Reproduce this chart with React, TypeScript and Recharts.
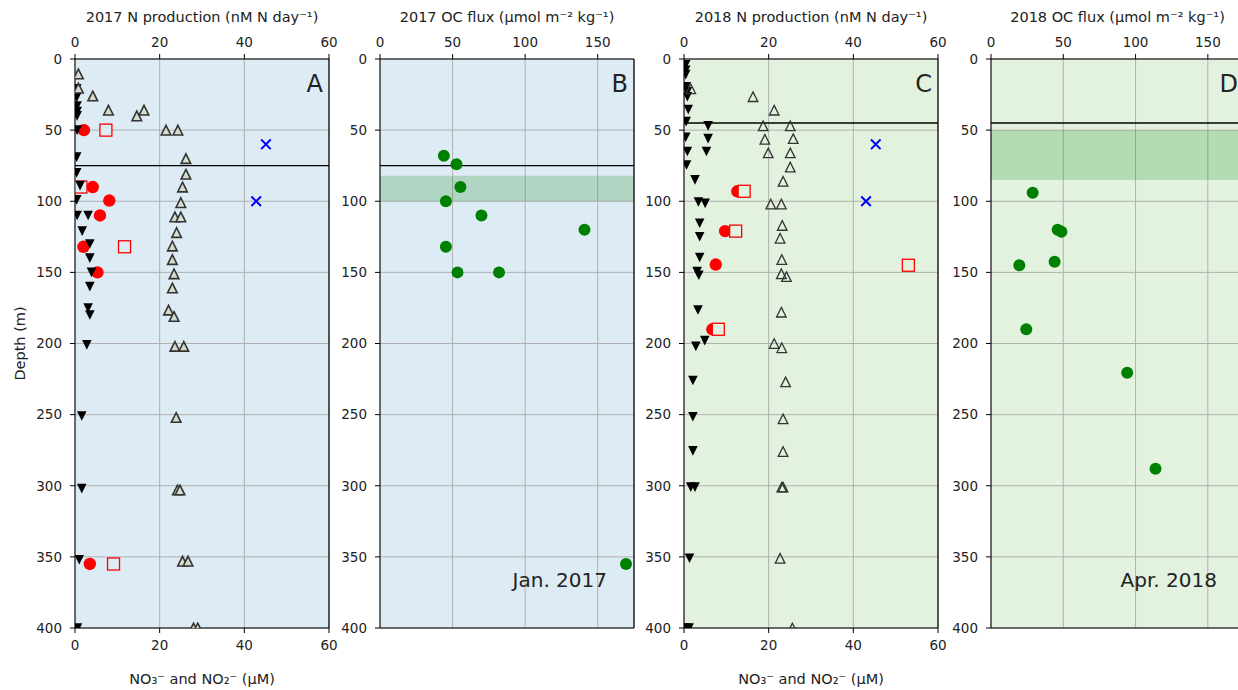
import React from 'react';
import {
  ScatterChart,
  Scatter,
  XAxis,
  YAxis,
  CartesianGrid,
  ReferenceLine,
  ReferenceArea,
} from 'recharts';

const FONT = '"DejaVu Sans", Verdana, sans-serif';
const INK = '#222';
const BLUE_BG = '#ddebf4';
const GREEN_BG = '#e3f2df';

const depthTicks = [0, 50, 100, 150, 200, 250, 300, 350, 400];
const nTicks = [0, 20, 40, 60];
const ocTicks = [0, 50, 100, 150];

// every row is [depth (m), value]
const no3_2017 = [
  [10.5, 0.8], [20.5, 0.8], [26, 4.2], [36, 7.9], [40, 14.6], [36, 16.3], [50, 21.5], [50, 24.3],
  [70, 26.2], [81, 26.2], [90, 25.4], [101, 25.0], [111, 23.6], [111, 25.0], [122, 24.0],
  [131.5, 23.0], [141, 23.0], [151, 23.4], [161, 23.0], [176.5, 22.1], [181, 23.4], [202, 23.6],
  [202, 25.7], [252, 23.9], [303, 24.2], [303, 24.8], [353, 25.4], [353, 26.7], [400, 28], [400, 29],
];
const no2_2017 = [
  [21, 0.4], [27, 0.4], [33, 0.5], [37, 0.5], [40, 0.5], [50, 0.5], [69, 0.4], [80, 0.4], [89, 1.2],
  [99, 0.4], [110, 0.5], [110, 3.1], [121, 1.7], [130, 3.5], [140, 3.5], [150, 3.9], [160, 3.5],
  [175, 3.1], [180, 3.5], [201, 2.8], [251, 1.6], [302, 1.6], [352, 1.0], [400, 0.6],
];
const prodA_2017 = [[50, 2.1], [90, 4.2], [99.5, 8.1], [110, 5.9], [132, 2.0], [150, 5.3], [355, 3.5]];
const prodB_2017 = [[50, 7.3], [90, 1.4], [132, 11.7], [355, 9.1]];
const prodC_2017 = [[60, 45.1], [100, 42.8]];
const flux_2017 = [
  [68, 44], [74, 52.7], [90, 55.4], [100, 45.4], [110, 69.9], [120, 140.9], [132, 45.4],
  [150, 53.4], [150, 82], [355, 169.5],
];

const no3_2018 = [
  [21, 1.6], [26.5, 16.3], [36, 21.3], [47, 18.7], [47, 25.1], [56.5, 19.1], [56, 25.8], [66, 19.9],
  [66, 25.1], [76, 25.1], [86, 23.4], [102, 20.5], [102, 23.0], [117, 23.2], [126, 22.7], [141, 23.1],
  [151, 23.0], [153, 24.2], [178, 23.0], [200, 21.3], [203, 23.1], [227, 24.0], [253, 23.4],
  [276, 23.4], [301, 23.1], [301, 23.4], [351, 22.7], [400, 25.6],
];
const no2_2018 = [
  [4, 0.4], [8, 0.4], [11, 0.4], [19.5, 0.5], [23, 0.8], [26.5, 0.8], [35.5, 1.0], [44, 0.5],
  [47, 5.7], [55, 0.4], [56, 5.7], [65, 0.8], [65, 5.3], [74.5, 0.6], [85, 2.6], [100.5, 3.4],
  [101.5, 5.0], [115.5, 3.7], [125, 3.7], [139.5, 3.7], [149.5, 3.1], [152, 3.5], [176.5, 3.3],
  [198, 4.9], [202, 2.8], [226, 2.1], [251.5, 2.1], [275.5, 2.1], [301, 1.6], [301, 2.6], [351, 1.3],
  [400, 0.5], [400, 1.2],
];
const prodA_2018 = [[93, 12.6], [121, 9.7], [144.5, 7.5], [190, 6.7]];
const prodB_2018 = [[93, 14.2], [121, 12.2], [145, 53.0], [190, 8.1]];
const prodC_2018 = [[60, 45.3], [100, 43]];
const flux_2018 = [
  [94, 28.8], [120, 46.1], [121.5, 48.7], [145, 19.6], [142.5, 44], [190, 24.4], [220.5, 94.2],
  [288, 113.8],
];

const pts = (rows: number[][]) => rows.map(([depth, value]) => ({ depth, value }));

const tickStyle = { fill: INK, fontSize: 13.5, fontFamily: FONT };
const labelStyle = { fill: INK, fontSize: 14.5, fontFamily: FONT };

// marker shapes (matplotlib look)
const downTri = (p: any) => (
  <path d={`M${p.cx - 4.8},${p.cy - 4.8}L${p.cx + 4.8},${p.cy - 4.8}L${p.cx},${p.cy + 4.8}Z`} fill="#000" />
);
const upTri = (fill: string, sw: number) => (p: any) => (
  <path
    d={`M${p.cx},${p.cy - 4.8}L${p.cx + 4.8},${p.cy + 4.8}L${p.cx - 4.8},${p.cy + 4.8}Z`}
    fill={fill}
    stroke="#333"
    strokeWidth={sw}
  />
);
const redDot = (p: any) => <circle cx={p.cx} cy={p.cy} r={6.2} fill="#ff0000" />;
const redSquare = (bg: string) => (p: any) => (
  <rect x={p.cx - 6} y={p.cy - 6} width={12} height={12} fill={bg} stroke="#ff0000" strokeWidth={1.3} />
);
const blueCross = (p: any) => (
  <path
    d={`M${p.cx - 4.8},${p.cy - 4.8}L${p.cx + 4.8},${p.cy + 4.8}M${p.cx - 4.8},${p.cy + 4.8}L${p.cx + 4.8},${p.cy - 4.8}`}
    stroke="#0000ff"
    strokeWidth={2}
  />
);
const greenDot = (p: any) => <circle cx={p.cx} cy={p.cy} r={6} fill="#008000" />;

const cornerText = (right: number, top: number, size: number, text: string) => (
  <div
    style={{
      position: 'absolute',
      left: right,
      top,
      transform: 'translateX(-100%)',
      fontFamily: FONT,
      fontSize: size,
      lineHeight: 1,
      color: INK,
      whiteSpace: 'nowrap',
    }}
  >
    {text}
  </div>
);

function NPanel(props: any) {
  const { left, width, yw, rm, bg, year, no3, no2, prodA, prodB, prodC, lineDepth, letter, no3Fill, depthLabel } = props;
  const plotRight = width - rm;
  return (
    <div style={{ position: 'absolute', left, top: 0, width, height: 690 }}>
      <ScatterChart width={width} height={690} margin={{ top: 0, right: rm, bottom: 0, left: 0 }}>
        <CartesianGrid xAxisId="bottom" stroke="#b0b0b0" fill={bg} fillOpacity={1} />
        <XAxis
          xAxisId="top"
          orientation="top"
          type="number"
          dataKey="value"
          domain={[0, 60]}
          ticks={nTicks}
          interval={0}
          allowDataOverflow
          height={59}
          tickSize={5}
          tickMargin={7}
          stroke="#000"
          tick={tickStyle}
          label={{ value: `${year} N production (nM N day⁻¹)`, position: 'insideTop', offset: 12, ...labelStyle }}
        />
        <XAxis
          xAxisId="bottom"
          orientation="bottom"
          type="number"
          dataKey="value"
          domain={[0, 60]}
          ticks={nTicks}
          interval={0}
          allowDataOverflow
          height={62}
          tickSize={5}
          tickMargin={7}
          stroke="#000"
          tick={tickStyle}
          label={{ value: 'NO₃⁻ and NO₂⁻ (μM)', position: 'insideBottom', offset: 6, ...labelStyle }}
        />
        <YAxis
          type="number"
          dataKey="depth"
          domain={[0, 400]}
          reversed
          ticks={depthTicks}
          interval={0}
          allowDataOverflow
          width={yw}
          tickSize={5}
          tickMargin={8}
          stroke="#000"
          tick={tickStyle}
          label={
            depthLabel
              ? { value: 'Depth (m)', angle: -90, position: 'insideLeft', offset: 20, style: { textAnchor: 'middle' }, ...labelStyle }
              : undefined
          }
        />
        <ReferenceLine xAxisId="bottom" x={60} stroke="#000" strokeWidth={1.2} />
        <ReferenceLine xAxisId="bottom" y={lineDepth} stroke="#000" strokeWidth={1.3} />
        <Scatter xAxisId="top" data={pts(prodA)} shape={redDot} isAnimationActive={false} />
        <Scatter xAxisId="top" data={pts(prodB)} shape={redSquare(bg)} isAnimationActive={false} />
        <Scatter xAxisId="bottom" data={pts(no2)} shape={downTri} isAnimationActive={false} />
        <Scatter xAxisId="bottom" data={pts(no3)} shape={upTri(no3Fill, no3Fill === 'none' ? 1.3 : 1.6)} isAnimationActive={false} />
        <Scatter xAxisId="top" data={pts(prodC)} shape={blueCross} isAnimationActive={false} />
      </ScatterChart>
      {cornerText(plotRight - 6, 72, 24, letter)}
    </div>
  );
}

function OcPanel(props: any) {
  const { left, width, yw, rm, bg, year, flux, lineDepth, band, letter, stamp } = props;
  const plotRight = width - rm;
  return (
    <div style={{ position: 'absolute', left, top: 0, width, height: 690 }}>
      <ScatterChart width={width} height={690} margin={{ top: 0, right: rm, bottom: 62, left: 0 }}>
        <CartesianGrid xAxisId="top" stroke="#b0b0b0" fill={bg} fillOpacity={1} />
        <XAxis
          xAxisId="top"
          orientation="top"
          type="number"
          dataKey="value"
          domain={[0, 175]}
          ticks={ocTicks}
          interval={0}
          allowDataOverflow
          height={59}
          tickSize={5}
          tickMargin={7}
          stroke="#000"
          tick={tickStyle}
          label={{ value: `${year} OC flux (μmol m⁻² kg⁻¹)`, position: 'insideTop', offset: 12, ...labelStyle }}
        />
        <YAxis
          type="number"
          dataKey="depth"
          domain={[0, 400]}
          reversed
          ticks={depthTicks}
          interval={0}
          allowDataOverflow
          width={yw}
          tickSize={5}
          tickMargin={8}
          stroke="#000"
          tick={tickStyle}
        />
        <ReferenceArea xAxisId="top" y1={band[0]} y2={band[1]} fill="#008000" fillOpacity={0.2} stroke="none" />
        <ReferenceLine xAxisId="top" x={175} stroke="#000" strokeWidth={1.2} />
        <ReferenceLine xAxisId="top" y={400} stroke="#000" strokeWidth={1.2} />
        <ReferenceLine xAxisId="top" y={lineDepth} stroke="#000" strokeWidth={1.3} />
        <Scatter xAxisId="top" data={pts(flux)} shape={greenDot} isAnimationActive={false} />
      </ScatterChart>
      {cornerText(plotRight - 6, 72, 24, letter)}
      {cornerText(plotRight - 27, 570, 20, stamp)}
    </div>
  );
}

export default function App() {
  return (
    <div
      style={{
        position: 'fixed',
        left: 0,
        top: 0,
        width: 1238,
        height: 690,
        overflow: 'hidden',
        background: '#fff',
      }}
    >
      <NPanel
        left={0} width={340} yw={75} rm={11} bg={BLUE_BG} year="2017"
        no3={no3_2017} no2={no2_2017} prodA={prodA_2017} prodB={prodB_2017} prodC={prodC_2017}
        lineDepth={75} letter="A" no3Fill="#d6dccb" depthLabel
      />
      <OcPanel
        left={340} width={300} yw={40} rm={6} bg={BLUE_BG} year="2017"
        flux={flux_2017} lineDepth={75} band={[82, 100]} letter="B" stamp="Jan. 2017"
      />
      <NPanel
        left={640} width={309} yw={44} rm={11} bg={GREEN_BG} year="2018"
        no3={no3_2018} no2={no2_2018} prodA={prodA_2018} prodB={prodB_2018} prodC={prodC_2018}
        lineDepth={45} letter="C" no3Fill="none"
      />
      <OcPanel
        left={945} width={305} yw={46} rm={6} bg={GREEN_BG} year="2018"
        flux={flux_2018} lineDepth={45} band={[50, 85]} letter="D" stamp="Apr. 2018"
      />
    </div>
  );
}
